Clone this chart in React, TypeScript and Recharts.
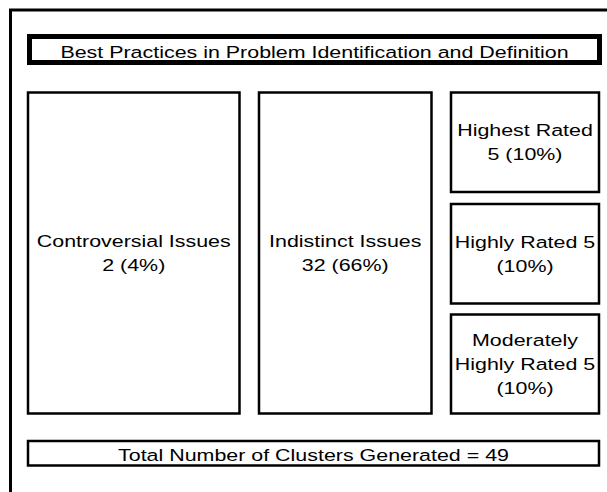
import React from 'react';
import { ComposedChart, XAxis, YAxis, ReferenceArea, ReferenceLine, Scatter } from 'recharts';

// values
const chartTitle = 'Best Practices in Problem Identification and Definition';
const categories = ['Controversial Issues', 'Indistinct Issues', 'Highest Rated', 'Highly Rated', 'Moderately Highly Rated'];
const clusterCounts = [2, 32, 5, 5, 5];
const clusterPercents = [4, 66, 10, 10, 10];
const totalClusters = 49;

// box placement, in the chart's own units (domain = pixel grid of the picture)
const W = 607;
const H = 492;
const boxes = [
    { x1: 28, x2: 239.5, y1: 92.5, y2: 413.5 },
    { x1: 259, x2: 431.5, y1: 92.5, y2: 413.5 },
    { x1: 451, x2: 599, y1: 92.5, y2: 192 },
    { x1: 451, x2: 599, y1: 204, y2: 303.5 },
    { x1: 451, x2: 599, y1: 314.5, y2: 413.5 },
];
const titleBox = { x1: 29.5, x2: 599.5, y1: 36.5, y2: 62.5 };
const totalBox = { x1: 28, x2: 599, y1: 441, y2: 465.5 };

const FONT = "'Liberation Sans', Arial, sans-serif";
const LINE = 24;
const CAP = 12;
const STRETCH = 1.26; // the source text is drawn wider than it is tall

// rough word wrap, like the spreadsheet did it
const wrap = (text: string, width: number) => {
    const maxChars = Math.floor((width - 8) / 9.6);
    const lines: string[] = [];
    let cur = '';
    text.split(' ').forEach(word => {
        const next = cur ? cur + ' ' + word : word;
        if (next.length > maxChars && cur) {
            lines.push(cur);
            cur = word;
        } else {
            cur = next;
        }
    });
    if (cur) lines.push(cur);
    return lines;
};

const BoxText = ({ viewBox, text }: any) => {
    if (!viewBox) return null;
    const { x, y, width, height } = viewBox;
    const lines = wrap(text, width);
    const cx = x + width / 2;
    const block = (lines.length - 1) * LINE + CAP;
    const first = y + height / 2 - block / 2 + CAP + (lines.length === 1 ? 2 : 0);
    return (
        <g>
            {lines.map((l, i) => (
                <text
                    key={i}
                    transform={`translate(${cx},${first + i * LINE}) scale(${STRETCH},1)`}
                    textAnchor="middle"
                    fontFamily={FONT}
                    fontSize={17}
                    fill="#000"
                >
                    {l}
                </text>
            ))}
        </g>
    );
};

const App: React.FC = () => {
    const labels = categories.map((c, i) => `${c} ${clusterCounts[i]} (${clusterPercents[i]}%)`);
    // one point per cluster group, sitting at the middle of its box
    const data = categories.map((c, i) => ({
        name: c,
        count: clusterCounts[i],
        cx: (boxes[i].x1 + boxes[i].x2) / 2,
        cy: (boxes[i].y1 + boxes[i].y2) / 2,
    }));

    return (
        <div style={{ position: 'absolute', left: 0, top: 0, width: W, height: H, background: '#fff' }}>
            <ComposedChart width={W} height={H} data={data} margin={{ top: 0, right: 0, bottom: 0, left: 0 }}>
                <XAxis type="number" dataKey="cx" domain={[0, W]} hide allowDataOverflow />
                <YAxis type="number" dataKey="cy" domain={[0, H]} reversed hide allowDataOverflow />

                {/* outer frame, only top and left edges show */}
                <ReferenceLine segment={[{ x: 9, y: 10 }, { x: 607, y: 10 }]} stroke="#000" strokeWidth={3} ifOverflow="visible" />
                <ReferenceLine segment={[{ x: 10.5, y: 9 }, { x: 10.5, y: 492 }]} stroke="#000" strokeWidth={3} ifOverflow="visible" />

                <ReferenceArea
                    {...titleBox}
                    fill="#fff"
                    fillOpacity={1}
                    stroke="#000"
                    strokeWidth={5}
                    ifOverflow="visible"
                    label={(p: any) => <BoxText viewBox={p.viewBox} text={chartTitle} />}
                />

                {boxes.map((b, i) => (
                    <ReferenceArea
                        key={categories[i]}
                        {...b}
                        fill="#fff"
                        fillOpacity={1}
                        stroke="#000"
                        strokeWidth={2.5}
                        ifOverflow="visible"
                        label={(p: any) => <BoxText viewBox={p.viewBox} text={labels[i]} />}
                    />
                ))}

                <ReferenceArea
                    {...totalBox}
                    fill="#fff"
                    fillOpacity={1}
                    stroke="#000"
                    strokeWidth={2.5}
                    ifOverflow="visible"
                    label={(p: any) => <BoxText viewBox={p.viewBox} text={`Total Number of Clusters Generated = ${totalClusters}`} />}
                />

                <Scatter dataKey="cy" isAnimationActive={false} shape={() => <g />} legendType="none" />
            </ComposedChart>
        </div>
    );
};

export default App;
